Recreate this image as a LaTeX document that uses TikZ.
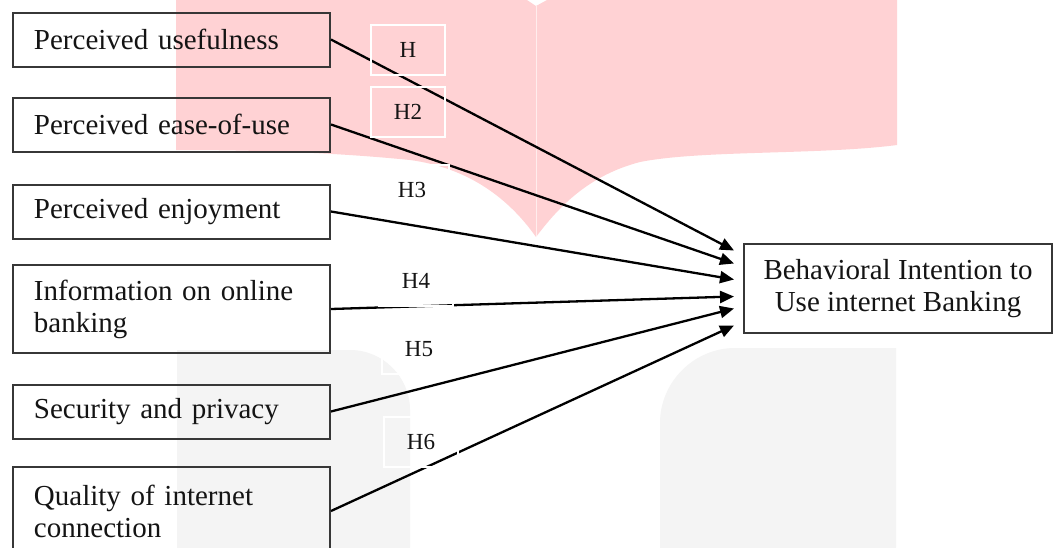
\documentclass[tikz,border=0pt]{standalone}
\usepackage{fontspec}
\setmainfont{Liberation Serif}
\usetikzlibrary{arrows.meta, calc}
\definecolor{wmpink}{RGB}{255,210,212}
\definecolor{wmgray}{RGB}{244,244,244}
\definecolor{boxline}{RGB}{55,55,55}
\definecolor{ink}{RGB}{20,20,20}

\begin{document}
\begin{tikzpicture}[
    x=1pt, y=-1pt,
    factor/.style={draw=boxline, line width=2pt, minimum width=317pt, minimum height=54pt,
        text width=275pt, inner xsep=20pt, align=left, text=ink, font=\fontsize{29}{32}\selectfont},
    tall/.style={minimum height=88pt},
    outcome/.style={draw=boxline, line width=2pt, minimum width=308pt, minimum height=89pt,
        align=center, text=ink, font=\fontsize{29}{32}\selectfont},
    hyp/.style={draw=white, line width=1.5pt, minimum width=74pt, minimum height=50pt,
        text=ink, font=\fontsize{23}{26}\selectfont},
    edge/.style={line width=2.3pt, black, -{Triangle[length=14pt,width=12pt]}}
]
    \useasboundingbox (0,0) rectangle (1053,547);
    \fill[white] (0,0) rectangle (1053,547);

    \fill[wmpink] (176,0) -- (527,0) -- (536,6) -- (547,0) -- (897,0) -- (897,145)
        .. controls (820,155) and (700,150) .. (640,162)
        .. controls (590,175) and (560,205) .. (536,237)
        .. controls (510,200) and (470,168) .. (410,160)
        .. controls (330,152) and (250,150) .. (176,150) -- cycle;
    \draw[white, opacity=0.6, line width=1pt] (536,6) -- (536,237);
    \fill[wmgray] (177,560) -- (177,350) -- (350,350)
        .. controls (383,350) and (410,377) .. (410,410) -- (410,560) -- cycle;
    \fill[wmgray] (896,560) -- (896,348) -- (735,348)
        .. controls (694,348) and (660,382) .. (660,423) -- (660,560) -- cycle;

    \node[factor] (pu)   at (171.5,39.5)  {Perceived usefulness};
    \node[factor] (peou) at (171.5,124.5) {Perceived ease-of-use};
    \node[factor] (pe)   at (171.5,211.5) {Perceived enjoyment};
    \node[factor, tall] (info) at (171.5,309) {Information on online\\banking};
    \node[factor] (sec)  at (171.5,411.5) {Security and privacy};
    \node[factor, tall] (qual) at (171.5,511) {Quality of internet\\connection};

    \node[outcome] (bi) at (898,288.5) {Behavioral Intention to\\Use internet Banking};

    \draw[edge] (pu.east)   -- ($(bi.west)+(-9,-38)$);
    \draw[edge] (peou.east) -- ($(bi.west)+(-9,-25)$);
    \draw[edge] (pe.east)   -- ($(bi.west)+(-9,-9)$);
    \draw[edge] (info.east) -- ($(bi.west)+(-9,8)$);
    \draw[edge] (sec.east)  -- ($(bi.west)+(-9,20)$);
    \draw[edge] (qual.east) -- ($(bi.west)+(-9,37)$);

    \node[hyp] (h1) at (408,50)  {H};
    \node[hyp] (h2) at (408,112) {H2};
    \node[hyp] (h3) at (412,190) {H3};
    \node[hyp] (h4) at (416,281) {H4};
    \node[hyp] (h5) at (419,349) {H5};
    \node[hyp] (h6) at (421,442) {H6};
\end{tikzpicture}
\end{document}
